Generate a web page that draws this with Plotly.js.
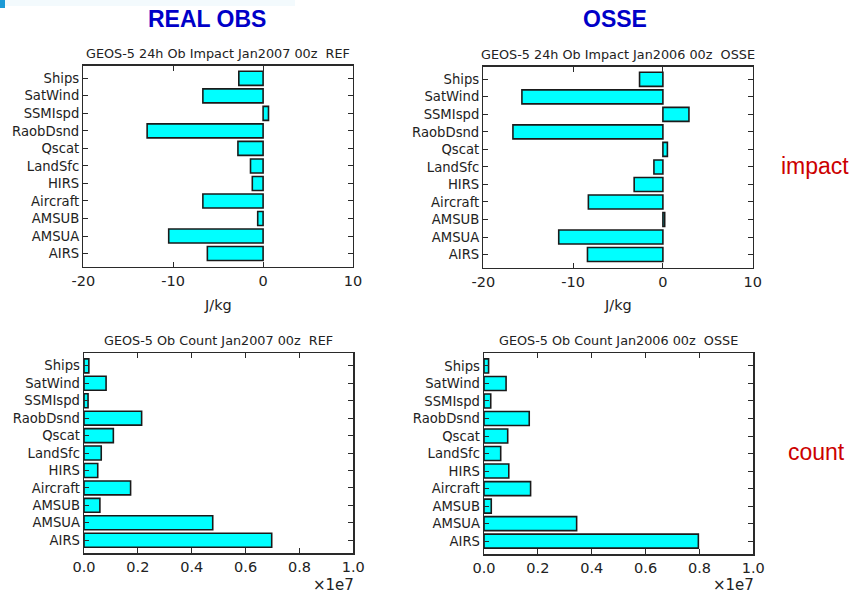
<!DOCTYPE html>
<html>
<head>
<meta charset="utf-8">
<script src="https://cdn.plot.ly/plotly-3.0.1.min.js"></script>
<style>
  html, body { margin: 0; padding: 0; background: #ffffff; }
  #chart { width: 854px; height: 598px; }
</style>
</head>
<body>
<div id="chart"></div>
<script>
// Observation types, listed top to bottom
const categories = ['Ships', 'SatWind', 'SSMIspd', 'RaobDsnd', 'Qscat', 'LandSfc', 'HIRS', 'Aircraft', 'AMSUB', 'AMSUA', 'AIRS'];

// 24h observation impact (J/kg)
const impactRef  = [-2.7, -6.7, 0.6, -12.9, -2.8, -1.4, -1.2, -6.7, -0.6, -10.5, -6.2];
const impactOsse = [-2.6, -15.7, 2.9, -16.7, 0.5, -1.0, -3.2, -8.3, 0.2, -11.6, -8.4];

// Observation counts
const countRef  = [0.18e6, 0.82e6, 0.15e6, 2.14e6, 1.09e6, 0.64e6, 0.51e6, 1.73e6, 0.59e6, 4.78e6, 6.97e6];
const countOsse = [0.17e6, 0.82e6, 0.25e6, 1.68e6, 0.88e6, 0.62e6, 0.92e6, 1.73e6, 0.27e6, 3.44e6, 7.96e6];

// Axis ticks
const impactTicks = [-20, -10, 0, 10];
const countTicks = [0, 2e6, 4e6, 6e6, 8e6, 1e7];
const countTickText = ['0.0', '0.2', '0.4', '0.6', '0.8', '1.0'];

// Panel titles
const panelTitles = [
  'GEOS-5 24h Ob Impact Jan2007 00z&nbsp; REF',
  'GEOS-5 24h Ob Impact Jan2006 00z&nbsp; OSSE',
  'GEOS-5 Ob Count Jan2007 00z&nbsp; REF',
  'GEOS-5 Ob Count Jan2006 00z&nbsp; OSSE'
];
const columnHeads = ['REAL OBS', 'OSSE'];
const rowLabels = ['impact', 'count'];

const W = 854, H = 598;
const px = v => v / W;
const py = v => 1 - v / H;

const FONT = 'DejaVu Sans, sans-serif';
const INK = '#222222';

function bars(values, xa, ya) {
  return {
    type: 'bar', orientation: 'h',
    x: values, y: categories,
    xaxis: xa, yaxis: ya,
    width: 0.8,
    marker: { color: '#00ffff', line: { color: '#1a1a1a', width: 1.6 } },
    hoverinfo: 'skip'
  };
}

const frame = {
  showline: true, linecolor: '#2a2a2a', linewidth: 1.4, mirror: 'ticks',
  ticks: 'inside', ticklen: 5, tickwidth: 1, tickcolor: '#2a2a2a',
  showgrid: false, zeroline: false, fixedrange: true
};

function impactX(domain, anchor) {
  return Object.assign({}, frame, {
    domain: domain, anchor: anchor, range: [-20, 10],
    tickvals: impactTicks, ticktext: impactTicks.map(String),
    tickfont: { family: FONT, size: 14.5, color: INK }
  });
}
function countX(domain, anchor) {
  return Object.assign({}, frame, {
    domain: domain, anchor: anchor, range: [0, 1e7],
    tickvals: countTicks, ticktext: countTickText,
    tickfont: { family: FONT, size: 14.5, color: INK }
  });
}
function catY(domain, anchor) {
  return Object.assign({}, frame, {
    domain: domain, anchor: anchor, type: 'category',
    categoryorder: 'array', categoryarray: categories,
    range: [10.75, -0.72],
    tickfont: { family: FONT, size: 13.2, color: INK }
  });
}

// Panel frames in pixels: [left, right, top, bottom]
const boxes = [
  [83.3, 353.0, 65.7, 266.7],
  [483.3, 752.7, 66.7, 267.7],
  [84.0, 353.3, 353.3, 553.3],
  [484.0, 753.3, 353.3, 554.3]
];
const xd = b => [px(b[0]), px(b[1])];
const yd = b => [py(b[3]), py(b[2])];

const data = [
  bars(impactRef, 'x', 'y'),
  bars(impactOsse, 'x2', 'y2'),
  bars(countRef, 'x3', 'y3'),
  bars(countOsse, 'x4', 'y4')
];

const annotations = [];
boxes.forEach((b, i) => {
  annotations.push({
    xref: 'paper', yref: 'paper', x: px((b[0] + b[1]) / 2), y: py(b[2]),
    xanchor: 'center', yanchor: 'bottom', yshift: 3, showarrow: false,
    text: panelTitles[i], font: { family: FONT, size: 12.8, color: INK }
  });
});
// x-axis unit labels
[0, 1].forEach(i => {
  const b = boxes[i];
  annotations.push({
    xref: 'paper', yref: 'paper', x: px((b[0] + b[1]) / 2), y: py(305),
    xanchor: 'center', yanchor: 'middle', showarrow: false,
    text: 'J/kg', font: { family: FONT, size: 14.5, color: INK }
  });
});
[2, 3].forEach(i => {
  const b = boxes[i];
  annotations.push({
    xref: 'paper', yref: 'paper', x: px(b[1] + 3), y: py(585),
    xanchor: 'right', yanchor: 'middle', showarrow: false,
    text: '\u00d71e7', font: { family: FONT, size: 15, color: INK }
  });
});
// Column headings
annotations.push({
  xref: 'paper', yref: 'paper', x: px(207), y: py(19), xanchor: 'center', yanchor: 'middle',
  showarrow: false, text: '<b>' + columnHeads[0] + '</b>',
  font: { family: 'Liberation Sans, Arial, sans-serif', size: 23, color: '#0000c8' }
});
annotations.push({
  xref: 'paper', yref: 'paper', x: px(615), y: py(19), xanchor: 'center', yanchor: 'middle',
  showarrow: false, text: '<b>' + columnHeads[1] + '</b>',
  font: { family: 'Liberation Sans, Arial, sans-serif', size: 23, color: '#0000c8' }
});
// Row labels
annotations.push({
  xref: 'paper', yref: 'paper', x: px(815), y: py(166), xanchor: 'center', yanchor: 'middle',
  showarrow: false, text: rowLabels[0],
  font: { family: 'Liberation Sans, Arial, sans-serif', size: 23, color: '#cc0000' }
});
annotations.push({
  xref: 'paper', yref: 'paper', x: px(816), y: py(452), xanchor: 'center', yanchor: 'middle',
  showarrow: false, text: rowLabels[1],
  font: { family: 'Liberation Sans, Arial, sans-serif', size: 23, color: '#cc0000' }
});

const layout = {
  width: W, height: H,
  margin: { l: 0, r: 0, t: 0, b: 0 },
  paper_bgcolor: '#ffffff', plot_bgcolor: '#ffffff',
  showlegend: false, bargap: 0.2,
  xaxis: impactX(xd(boxes[0]), 'y'),
  yaxis: catY(yd(boxes[0]), 'x'),
  xaxis2: impactX(xd(boxes[1]), 'y2'),
  yaxis2: catY(yd(boxes[1]), 'x2'),
  xaxis3: countX(xd(boxes[2]), 'y3'),
  yaxis3: catY(yd(boxes[2]), 'x3'),
  xaxis4: countX(xd(boxes[3]), 'y4'),
  yaxis4: catY(yd(boxes[3]), 'x4'),
  annotations: annotations,
  shapes: [
    // slide header accent
    { type: 'rect', xref: 'paper', yref: 'paper', x0: 0, x1: px(5), y0: py(8), y1: 1,
      fillcolor: '#1b9ad6', line: { width: 0 }, layer: 'below' },
    { type: 'rect', xref: 'paper', yref: 'paper', x0: px(5), x1: px(295), y0: py(6), y1: 1,
      fillcolor: '#f3fafd', line: { width: 0 }, layer: 'below' }
  ]
};

Plotly.newPlot('chart', data, layout, { displayModeBar: false, staticPlot: true });
</script>
</body>
</html>
